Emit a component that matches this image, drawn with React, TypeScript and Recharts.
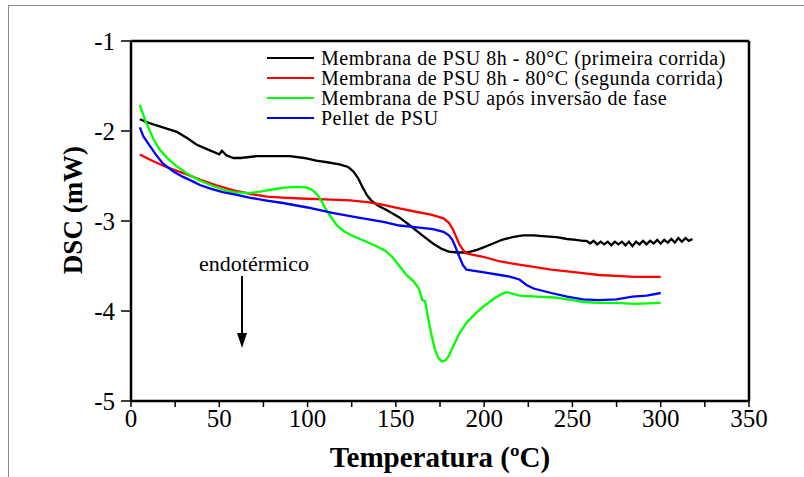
import React from 'react';
import { LineChart, Line, XAxis, YAxis, Legend } from 'recharts';

// Temperatures (°C) and DSC readings (mW)
const primeiraT = [5, 10, 18, 26, 32, 37, 44, 50, 51.5, 54, 58, 62, 71, 80, 90, 98, 105, 112, 118, 123, 126, 128.5, 131, 133.5, 136, 140, 145, 152, 158, 165, 171, 176, 180, 185, 190, 196, 200, 205, 210, 216, 222, 228, 235, 241, 247, 252, 256, 258, 260, 262, 264, 266, 268, 270, 272, 274, 276, 278, 280, 282, 284, 286, 288, 290, 292, 294, 296, 298, 300, 302, 304, 306, 308, 310, 312, 314, 316, 318];
const primeiraV = [-1.87, -1.91, -1.96, -2.01, -2.08, -2.15, -2.21, -2.26, -2.22, -2.27, -2.30, -2.30, -2.28, -2.28, -2.28, -2.30, -2.33, -2.35, -2.37, -2.40, -2.45, -2.52, -2.62, -2.71, -2.77, -2.83, -2.88, -2.96, -3.05, -3.16, -3.25, -3.31, -3.34, -3.35, -3.35, -3.32, -3.29, -3.25, -3.21, -3.18, -3.16, -3.16, -3.17, -3.18, -3.20, -3.21, -3.22, -3.22, -3.25, -3.22, -3.26, -3.23, -3.26, -3.23, -3.27, -3.23, -3.26, -3.23, -3.27, -3.23, -3.28, -3.23, -3.26, -3.22, -3.26, -3.22, -3.25, -3.21, -3.25, -3.21, -3.24, -3.20, -3.24, -3.19, -3.23, -3.19, -3.22, -3.20];

const segundaT = [5, 12, 20, 30, 39, 48, 58, 68, 77, 86, 96, 110, 124, 134, 143, 152, 162, 170, 177, 180, 182, 184, 186, 188, 190, 200, 209, 218, 228, 238, 247, 256, 265, 275, 285, 300];
const segundaV = [-2.26, -2.33, -2.40, -2.47, -2.54, -2.60, -2.66, -2.70, -2.73, -2.74, -2.75, -2.76, -2.77, -2.79, -2.82, -2.86, -2.90, -2.93, -2.97, -3.02, -3.08, -3.17, -3.26, -3.32, -3.36, -3.40, -3.45, -3.48, -3.51, -3.54, -3.56, -3.58, -3.60, -3.61, -3.62, -3.62];

const inversaoT = [5, 8, 12.5, 16, 20, 25, 31.5, 38, 45, 52, 58, 67, 74, 80, 87, 94, 100, 103, 106, 108, 110, 113, 116.6, 121, 126, 132, 139, 144, 148, 152, 156, 160, 163, 165, 166.5, 168, 170, 172, 174, 176, 178, 180, 182, 186, 190, 195, 199, 205, 210, 213, 220, 230, 240, 250, 256, 265, 275, 285, 300];
const inversaoV = [-1.71, -1.88, -2.08, -2.20, -2.29, -2.38, -2.47, -2.54, -2.60, -2.65, -2.68, -2.69, -2.67, -2.65, -2.63, -2.62, -2.63, -2.66, -2.72, -2.78, -2.86, -2.95, -3.05, -3.12, -3.17, -3.22, -3.28, -3.33, -3.40, -3.50, -3.60, -3.67, -3.75, -3.88, -3.89, -4.05, -4.25, -4.42, -4.52, -4.56, -4.55, -4.50, -4.41, -4.25, -4.13, -4.03, -3.96, -3.87, -3.81, -3.79, -3.83, -3.84, -3.85, -3.88, -3.90, -3.91, -3.91, -3.92, -3.91];

const pelletT = [5, 7, 9.8, 14, 18, 24, 29.5, 35, 39, 45, 52, 60, 67, 76, 86, 100, 114, 128, 143, 152, 162, 171, 177, 180, 182, 184, 186, 188, 190, 200, 209, 215, 220, 224, 228, 238, 247, 256, 265, 275, 284, 292, 300];
const pelletV = [-1.96, -2.06, -2.14, -2.26, -2.36, -2.45, -2.51, -2.56, -2.60, -2.64, -2.68, -2.71, -2.74, -2.77, -2.80, -2.85, -2.91, -2.96, -3.01, -3.05, -3.07, -3.09, -3.12, -3.16, -3.21, -3.30, -3.40, -3.49, -3.54, -3.57, -3.60, -3.62, -3.65, -3.71, -3.75, -3.80, -3.84, -3.87, -3.88, -3.87, -3.84, -3.83, -3.80];

const xTicks = [0, 25, 50, 75, 100, 125, 150, 175, 200, 225, 250, 275, 300, 325, 350];
const yTicks = [-5, -4, -3, -2, -1];

const toPoints = (t: number[], v: number[]) => t.map((temp, i) => ({ temp, dsc: v[i] }));

const series = [
  { name: 'Membrana de PSU 8h - 80°C (primeira corrida)', color: '#000000', data: toPoints(primeiraT, primeiraV) },
  { name: 'Membrana de PSU 8h - 80°C (segunda corrida)', color: '#ff0000', data: toPoints(segundaT, segundaV) },
  { name: 'Membrana de PSU após inversão de fase', color: '#00ff00', data: toPoints(inversaoT, inversaoV) },
  { name: 'Pellet de PSU', color: '#0000ff', data: toPoints(pelletT, pelletV) },
];

const serif = 'Liberation Serif, serif';

// bottom axis: labels only every 50, tick marks every 25
const XTick = (props: any) => {
  const { x, y, payload } = props;
  if (payload.value % 50 !== 0) return <g />;
  return (
    <text x={x} y={y} dy="0.71em" textAnchor="middle" style={{ fontFamily: serif }} fontSize={25} fill="#000">
      {payload.value}
    </text>
  );
};

const YTick = (props: any) => {
  const { x, y, payload } = props;
  return (
    <text x={x} y={y} dy="0.34em" textAnchor="end" style={{ fontFamily: serif }} fontSize={25} fill="#000">
      {payload.value}
    </text>
  );
};

const LegendBox = () => (
  <div style={{ fontFamily: serif, fontSize: 20, letterSpacing: 0.5, lineHeight: '20px', color: '#000' }}>
    {series.map((s) => (
      <div key={s.name} style={{ display: 'flex', alignItems: 'center', whiteSpace: 'nowrap' }}>
        <span style={{ display: 'inline-block', width: 47, height: 2.5, background: s.color, marginRight: 7 }} />
        <span>{s.name}</span>
      </div>
    ))}
  </div>
);

export default function App() {
  return (
    <div style={{ position: 'absolute', left: 0, top: 0, width: 804, height: 477, background: '#fff', overflow: 'hidden', fontFamily: serif }}>
      {/* thin outer frame of the figure */}
      <div style={{ position: 'absolute', left: 8, top: 5, width: 800, height: 480, borderTop: '1.5px solid #888', borderLeft: '1.5px solid #888' }} />

      <LineChart width={804} height={477} margin={{ top: 11, right: 54, bottom: 0, left: 0 }} style={{ fontFamily: serif }}>
        <XAxis
          xAxisId="bottom"
          dataKey="temp"
          type="number"
          domain={[0, 350]}
          ticks={xTicks}
          interval={0}
          allowDataOverflow
          height={76}
          tickSize={6}
          tickMargin={2}
          axisLine={{ stroke: '#000', strokeWidth: 2.5 }}
          tickLine={{ stroke: '#000', strokeWidth: 1.5 }}
          tick={<XTick />}
          label={{
            content: (p: any) => (
              <text
                x={p.viewBox.x + p.viewBox.width / 2}
                y={p.viewBox.y + 66}
                textAnchor="middle"
                style={{ fontFamily: serif }}
                fontWeight="bold"
                fontSize={29}
                fill="#000"
              >
                Temperatura (ºC)
              </text>
            ),
          }}
        />
        <XAxis
          xAxisId="top"
          orientation="top"
          dataKey="temp"
          type="number"
          domain={[0, 350]}
          ticks={xTicks}
          interval={0}
          height={30}
          tickSize={4}
          axisLine={{ stroke: '#000', strokeWidth: 2.5 }}
          tickLine={{ stroke: '#000', strokeWidth: 1 }}
          tick={false}
        />
        <YAxis
          yAxisId="left"
          type="number"
          domain={[-5, -1]}
          ticks={yTicks}
          interval={0}
          width={131}
          tickSize={10}
          tickMargin={6}
          axisLine={{ stroke: '#000', strokeWidth: 2.5 }}
          tickLine={{ stroke: '#000', strokeWidth: 1.5 }}
          tick={<YTick />}
          label={{
            content: () => (
              <text
                transform="translate(82, 210) rotate(-90)"
                textAnchor="middle"
                style={{ fontFamily: serif }}
                fontWeight="bold"
                fontSize={27}
                fill="#000"
              >
                DSC (mW)
              </text>
            ),
          }}
        />
        <YAxis
          yAxisId="right"
          orientation="right"
          type="number"
          domain={[-5, -1]}
          width={1}
          axisLine={{ stroke: '#000', strokeWidth: 2.5 }}
          tickLine={false}
          tick={false}
        />
        <Legend
          layout="vertical"
          align="center"
          verticalAlign="middle"
          content={<LegendBox />}
          wrapperStyle={{ top: 48, left: 267, width: 500 }}
        />
        {series.map((s) => (
          <Line
            key={s.name}
            xAxisId="bottom"
            yAxisId="left"
            data={s.data}
            dataKey="dsc"
            name={s.name}
            type="linear"
            stroke={s.color}
            strokeWidth={2.3}
            dot={false}
            activeDot={false}
            isAnimationActive={false}
          />
        ))}
      </LineChart>

      {/* endothermic direction note */}
      <svg width={804} height={477} style={{ position: 'absolute', left: 0, top: 0, pointerEvents: 'none' }}>
        <text x={254} y={271} textAnchor="middle" style={{ fontFamily: serif }} fontSize={22} fill="#000">
          endotérmico
        </text>
        <line x1={242} y1={276} x2={242} y2={336} stroke="#000" strokeWidth={2} />
        <polygon points="237,333 247,333 242,348" fill="#000" />
      </svg>
    </div>
  );
}
